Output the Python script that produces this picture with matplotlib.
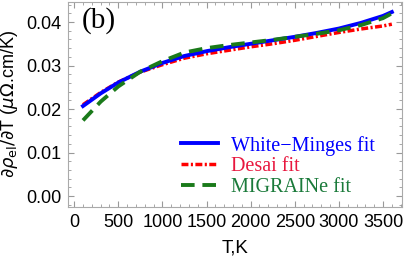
import matplotlib
matplotlib.use("Agg")
import matplotlib.pyplot as plt
import numpy as np
from matplotlib.ticker import MultipleLocator

T = [100, 300, 500, 750, 1000, 1250, 1500, 1750, 2000, 2250, 2500, 2750, 3000, 3250, 3500, 3600]
white_minges = [0.0207, 0.0236, 0.0261, 0.0286, 0.0306, 0.0322, 0.0333, 0.0342, 0.0350, 0.0358, 0.0366, 0.0375, 0.0385, 0.0398, 0.0414, 0.0423]
desai = [0.0210, 0.0238, 0.0262, 0.0285, 0.0302, 0.0317, 0.0327, 0.0335, 0.0343, 0.0350, 0.0358, 0.0367, 0.0376, 0.0384, 0.0391, 0.0395]
migraine = [0.0174, 0.0217, 0.0252, 0.0286, 0.0310, 0.0330, 0.0340, 0.0347, 0.0353, 0.0359, 0.0366, 0.0373, 0.0381, 0.0393, 0.0409, 0.0420]

xticks = [0, 500, 1000, 1500, 2000, 2500, 3000, 3500]
yticks = [0.00, 0.01, 0.02, 0.03, 0.04]

plt.rcParams['font.family'] = ['Liberation Sans', 'DejaVu Sans']
fig = plt.figure(figsize=(4.08, 2.59), dpi=100)
ax = fig.add_axes([68/408, 52/259, 334/408, 205/259])

ax.plot(T, white_minges, color='#0000ff', lw=2.8, label='White\u2212Minges fit', zorder=3)
ax.plot(T, desai, color='#ff0000', lw=2.5, ls=(0, (2.0, 0.7, 0.6, 0.7)), label='Desai fit', zorder=2)
ax.plot(T, migraine, color='#1a7a1a', lw=2.8, ls=(0, (3.5, 2)), label='MIGRAINe fit', zorder=4)

ax.set_xlim(-70, 3715)
ax.set_ylim(-0.0025, 0.0446)
ax.set_xticks(xticks)
ax.set_yticks(yticks)
ax.set_yticklabels([f"{v:.2f}" for v in yticks])
ax.xaxis.set_minor_locator(MultipleLocator(100))
ax.yaxis.set_minor_locator(MultipleLocator(0.002))
ax.tick_params(which='both', direction='in', top=True, right=True, color='#999999', labelsize=13)
ax.tick_params(which='major', length=4, pad=5)
ax.tick_params(which='minor', length=2)
for s in ax.spines.values():
    s.set_color('#aaaaaa')

ax.set_xlabel('T,K', fontsize=13.5, labelpad=6)
ax.set_ylabel(r'$\partial\rho_{\rm el}/\partial$T ($\mu\Omega$.cm/K)', fontsize=13, labelpad=4)

ax.text(0.042, 0.975, '(b)', transform=ax.transAxes, fontsize=21, va='top', ha='left', family='Liberation Serif')

leg = ax.legend(loc='lower right', bbox_to_anchor=(0.919, 0.049), frameon=False,
                prop={'family': 'Liberation Serif', 'size': 14.5}, handlelength=1.85,
                handletextpad=0.65, labelspacing=0.08, borderaxespad=0, borderpad=0)
for txt, c in zip(leg.get_texts(), ['#0000ff', '#e8173e', '#1a7a3a']):
    txt.set_color(c)

fig.savefig('out.png', dpi=100)
